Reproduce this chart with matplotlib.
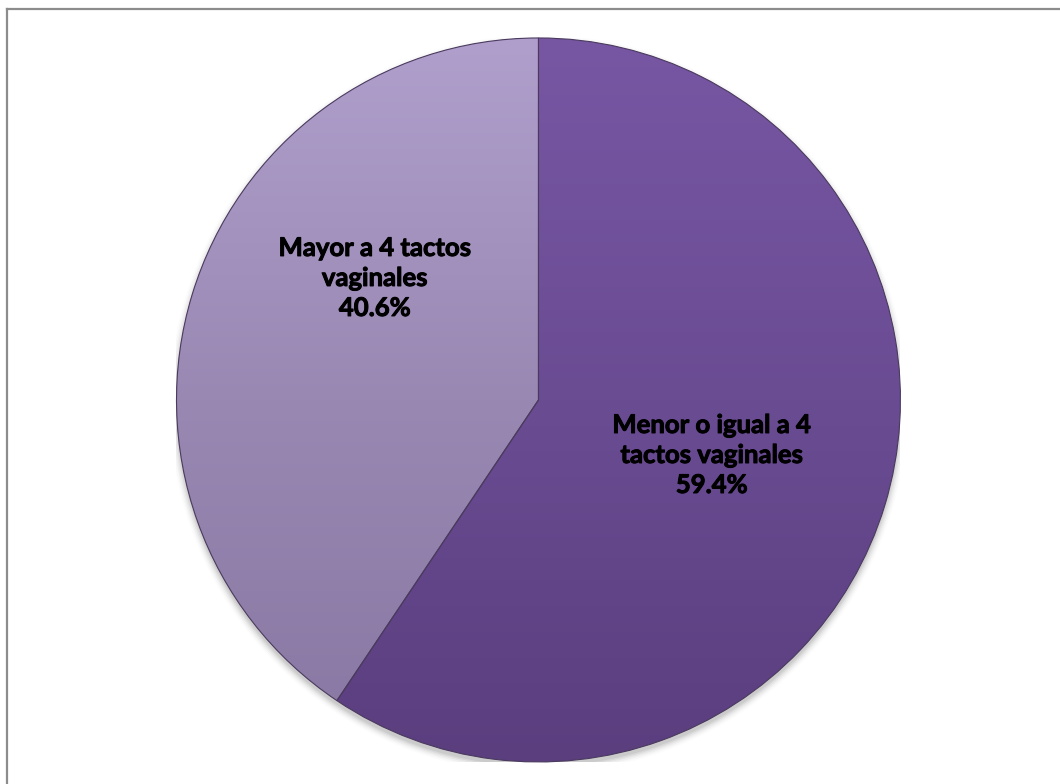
import matplotlib.pyplot as plt
import numpy as np
from matplotlib.lines import Line2D
from matplotlib.colors import LinearSegmentedColormap
import matplotlib.patheffects as pe

# datos del gráfico
categorias = ["Menor o igual a 4\ntactos vaginales", "Mayor a 4 tactos\nvaginales"]
porcentajes = [59.4, 40.6]

# degradados verticales de cada sector (arriba -> abajo)
degradados = [["#7756a3", "#6a4c93", "#5a3e7e"],
              ["#b09fcc", "#9888b2", "#8777a2"]]

fig = plt.figure(figsize=(10.6, 7.84), dpi=100)
fig.patch.set_facecolor("white")
ax = fig.add_axes([0.1665, 0.0281, 0.683, 0.9235])

# sombra suave debajo del pastel
for i, a in enumerate(np.linspace(0.06, 0.01, 6)):
    sombra = plt.Circle((0.0, -0.012), 1.0 + 0.004 * i, color="black", alpha=a, lw=0, zorder=0)
    ax.add_patch(sombra)

wedges, _ = ax.pie(porcentajes, startangle=90, counterclock=False, radius=1.0,
                   wedgeprops=dict(edgecolor="#4a3a5e", linewidth=0.8))

grad = np.linspace(0, 1, 256).reshape(-1, 1)
for w, cols in zip(wedges, degradados):
    w.set_facecolor("none")
    w.set_zorder(3)
    cmap = LinearSegmentedColormap.from_list("g", cols)
    im = ax.imshow(grad, cmap=cmap, extent=[-1, 1, -1, 1], origin="upper",
                   aspect="auto", zorder=2, interpolation="bicubic")
    im.set_clip_path(w)

# etiquetas dentro de cada sector
pos_etiquetas = [(0.479, -0.152), (-0.452, 0.337)]
for cat, val, (x, y) in zip(categorias, porcentajes, pos_etiquetas):
    ax.text(x, y, f"{cat}\n{val}%", ha="center", va="center", fontsize=18.5,
            fontweight="bold", family="Lato", color="black", linespacing=1.3, zorder=5,
            path_effects=[pe.withStroke(linewidth=0.7, foreground="black")])

ax.set_xlim(-1, 1)
ax.set_ylim(-1, 1)
ax.set_aspect("equal")
ax.axis("off")

# marco del área del gráfico
fig.add_artist(Line2D([6.5 / 1060, 1.0], [1 - 8.5 / 784, 1 - 8.5 / 784], color="#8c8c8c", lw=1.6))
fig.add_artist(Line2D([6.5 / 1060, 6.5 / 1060], [0.0, 1 - 8.5 / 784], color="#8c8c8c", lw=1.6))

fig.savefig("out.png", dpi=100)
